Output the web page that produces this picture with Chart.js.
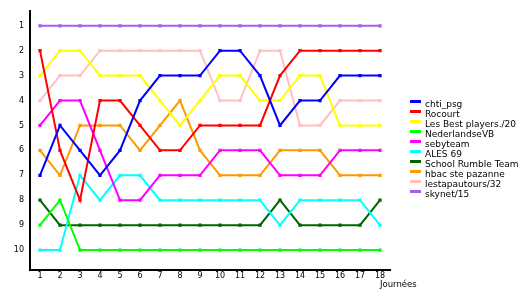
<!DOCTYPE html>
<html>
<head>
<meta charset="utf-8">
<script src="https://cdn.jsdelivr.net/npm/chart.js@4"></script>
<style>
  body { margin: 0; background: #fff; }
  #wrap { position: relative; width: 530px; height: 300px; }
  #legende { position: absolute; left: 410px; top: 99px; font: 9px "DejaVu Sans", sans-serif; color: #000; }
  #legende div { height: 10px; line-height: 10px; white-space: nowrap; }
  #legende span { display: inline-block; width: 11px; height: 3px; margin-right: 4px; vertical-align: top; margin-top: 1px; }
  #titreX { position: absolute; left: 380px; top: 279px; font: 8.5px "DejaVu Sans", sans-serif; color: #000; }
</style>
</head>
<body>
<div id="wrap">
  <canvas id="graphique" width="530" height="300"></canvas>
  <div id="legende"></div>
  <div id="titreX">Journées</div>
</div>
<script>
// Journées et classements
const journees = [1, 2, 3, 4, 5, 6, 7, 8, 9, 10, 11, 12, 13, 14, 15, 16, 17, 18];
const rangs = [1, 2, 3, 4, 5, 6, 7, 8, 9, 10];

const equipes = ["chti_psg", "Rocourt", "Les Best players./20", "NederlandseVB", "sebyteam",
                 "ALES 69", "School Rumble Team", "hbac ste pazanne", "lestapautours/32", "skynet/15"];
const couleurs = ["#0000ff", "#ff0000", "#ffff00", "#00ff00", "#ff00ff",
                  "#00ffff", "#006400", "#ff9900", "#ffc0c0", "#a060f0"];

const chtiPsg      = [7, 5, 6, 7, 6, 4, 3, 3, 3, 2, 2, 3, 5, 4, 4, 3, 3, 3];
const rocourt      = [2, 6, 8, 4, 4, 5, 6, 6, 5, 5, 5, 5, 3, 2, 2, 2, 2, 2];
const lesBest      = [3, 2, 2, 3, 3, 3, 4, 5, 4, 3, 3, 4, 4, 3, 3, 5, 5, 5];
const nederlandse  = [9, 8, 10, 10, 10, 10, 10, 10, 10, 10, 10, 10, 10, 10, 10, 10, 10, 10];
const sebyteam     = [5, 4, 4, 6, 8, 8, 7, 7, 7, 6, 6, 6, 7, 7, 7, 6, 6, 6];
const ales69       = [10, 10, 7, 8, 7, 7, 8, 8, 8, 8, 8, 8, 9, 8, 8, 8, 8, 9];
const schoolRumble = [8, 9, 9, 9, 9, 9, 9, 9, 9, 9, 9, 9, 8, 9, 9, 9, 9, 8];
const hbac         = [6, 7, 5, 5, 5, 6, 5, 4, 6, 7, 7, 7, 6, 6, 6, 7, 7, 7];
const lestapautours = [4, 3, 3, 2, 2, 2, 2, 2, 2, 4, 4, 2, 2, 5, 5, 4, 4, 4];
const skynet       = [1, 1, 1, 1, 1, 1, 1, 1, 1, 1, 1, 1, 1, 1, 1, 1, 1, 1];

const series = [chtiPsg, rocourt, lesBest, nederlandse, sebyteam, ales69, schoolRumble, hbac, lestapautours, skynet];

const police = { family: "DejaVu Sans", size: 8 };

const datasets = series.map(function (valeurs, i) {
    return {
        label: equipes[i],
        data: valeurs.map((v, j) => ({ x: journees[j], y: v })),
        borderColor: couleurs[i],
        backgroundColor: couleurs[i],
        borderWidth: 2,
        pointStyle: 'rect',
        pointRadius: 2.3,
        pointBorderWidth: 0,
        tension: 0
    };
});

new Chart(document.getElementById('graphique'), {
    type: 'line',
    data: { datasets: datasets },
    options: {
        responsive: false,
        animation: false,
        devicePixelRatio: 1,
        layout: { padding: { top: 10, right: 140, left: 0, bottom: 0 } },
        plugins: { legend: { display: false }, tooltip: { enabled: false } },
        scales: {
            x: {
                type: 'linear',
                min: 0.5,
                max: 18.5,
                grid: { display: false, drawTicks: false },
                border: { color: '#000', width: 2 },
                afterBuildTicks: function (axe) { axe.ticks = journees.map(v => ({ value: v })); },
                afterFit: function (axe) { axe.height = 30; },
                ticks: { color: '#000', font: police, padding: 1, maxRotation: 0, autoSkip: false }
            },
            y: {
                type: 'linear',
                reverse: true,
                min: 0.4,
                max: 10.8,
                grid: { display: false, drawTicks: false },
                border: { color: '#000', width: 2 },
                afterBuildTicks: function (axe) { axe.ticks = rangs.map(v => ({ value: v })); },
                afterFit: function (axe) { axe.width = 30; },
                ticks: { color: '#000', font: police, padding: 6, autoSkip: false }
            }
        }
    }
});

// Légende à droite
const legende = document.getElementById('legende');
equipes.forEach(function (nom, i) {
    const ligne = document.createElement('div');
    const trait = document.createElement('span');
    trait.style.background = couleurs[i];
    ligne.appendChild(trait);
    ligne.appendChild(document.createTextNode(nom));
    legende.appendChild(ligne);
});
</script>
</body>
</html>
